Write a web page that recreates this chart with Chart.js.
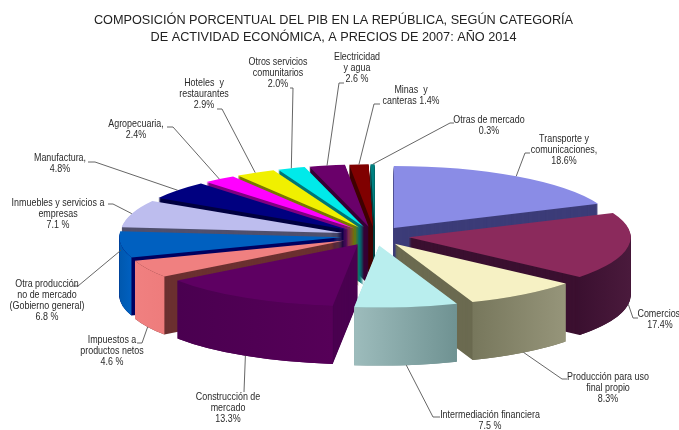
<!DOCTYPE html>
<html>
<head>
<meta charset="utf-8">
<title>PIB 2014</title>
<script src="https://cdn.jsdelivr.net/npm/chart.js@4/dist/chart.umd.min.js"></script>
<style>
	body { margin: 0; background: #fff; }
	canvas { display: block; }
</style>
</head>
<body>
<canvas id="myChart" width="679" height="430"></canvas>
<script>
var categories = [
	"Transporte y comunicaciones", "Comercios", "Producción para uso final propio",
	"Intermediación financiera", "Construcción de mercado", "Impuestos a productos netos",
	"Otra producción no de mercado (Gobierno general)", "Inmuebles y servicios a empresas",
	"Manufactura", "Agropecuaria", "Hoteles y restaurantes", "Otros servicios comunitarios",
	"Electricidad y agua", "Minas y canteras", "Otras de mercado"
];
var shares = [18.6, 17.4, 8.3, 7.5, 13.3, 4.6, 6.8, 7.1, 4.8, 2.4, 2.9, 2.0, 2.6, 1.4, 0.3];
var titleLines = [
	"COMPOSICIÓN PORCENTUAL DEL PIB EN LA REPÚBLICA, SEGÚN CATEGORÍA",
	"DE ACTIVIDAD ECONÓMICA, A PRECIOS DE 2007: AÑO 2014"
];
var labelLines = [
	["Transporte y", "comunicaciones,", "18.6%"],
	["Comercios,", "17.4%"],
	["Producción para uso", "final propio", "8.3%"],
	["Intermediación financiera", "7.5 %"],
	["Construcción de", "mercado", "13.3%"],
	["Impuestos a", "productos netos", "4.6 %"],
	["Otra producción", "no de mercado", "(Gobierno general)", "6.8 %"],
	["Inmuebles y servicios a", "empresas", "7.1 %"],
	["Manufactura,", "4.8%"],
	["Agropecuaria,", "2.4%"],
	["Hoteles  y", "restaurantes", "2.9%"],
	["Otros servicios", "comunitarios", "2.0%"],
	["Electricidad", "y agua", "2.6 %"],
	["Minas  y", "canteras 1.4%"],
	["Otras de mercado", "0.3%"]
];

var topColors = ["#8a8ce6", "#8b2a5c", "#f6f1c4", "#b9eeee", "#5e0062", "#f08080", "#0060c0", "#bdbdee",
	"#000080", "#ff00ff", "#f0f000", "#00eaea", "#6a006a", "#800000", "#008080"];
var cutColors = ["#3c3c78", "#3b1030", "#6b6a50", "#6f9090", "#4a0050", "#6b3030", "#000060", "#50506e",
	"#000040", "#800080", "#787800", "#007575", "#350035", "#400000", "#004040"];
var rimColors = [
	["#3c3c78", "#3c3c78"], ["#3b1030", "#4a1a3c"], ["#77775c", "#96957a"], ["#9dbcbc", "#6f9292"],
	["#4a0050", "#560058"], ["#f08080", "#ee7c7c"], ["#0058ae", "#0060c0"], ["#50506e", "#50506e"],
	["#000040", "#000040"], ["#800080", "#800080"], ["#787800", "#787800"], ["#007575", "#007575"],
	["#350035", "#350035"], ["#400000", "#400000"], ["#004040", "#004040"]
];

// pie placement, the squash gives the tilted look
var pieRadius = 222;
var pieCenter = { x: 375, y: 236 };
var squash = 0.28;
var explode = 34;
var pieDepth = 58;

// label centre x, first line y, then leader line points after the pie anchor
var labelSpots = [
	{ x: 564, y: 139, leader: [[525, 153], [530, 153]], drop: 0 },
	{ x: 660, y: 314, leader: [[633, 318], [638, 318]], drop: 1 },
	{ x: 608, y: 377, leader: [[562, 379], [567, 379]], drop: 1 },
	{ x: 490, y: 415, leader: [[433, 417], [440, 417]], drop: 1 },
	{ x: 228, y: 397, leader: [[244, 392]], drop: 1 },
	{ x: 112, y: 340, leader: [[142, 343], [137, 343]], drop: 1 },
	{ x: 47, y: 284, leader: [[78, 286], [73, 286]], drop: 0.1 },
	{ x: 58, y: 203, leader: [[113, 204], [108, 204]], drop: 0 },
	{ x: 60, y: 158, leader: [[95, 162], [88, 162]], drop: 0 },
	{ x: 136, y: 124, leader: [[173, 127], [167, 127]], drop: 0 },
	{ x: 204, y: 83, leader: [[222, 109], [217, 109]], drop: 0 },
	{ x: 278, y: 62, leader: [[293, 88], [290, 88]], drop: 0 },
	{ x: 357, y: 57, leader: [[339, 83], [344, 83]], drop: 0 },
	{ x: 411, y: 90, leader: [[374, 104], [380, 104]], drop: 0 },
	{ x: 489, y: 120, leader: [[450, 123], [454, 123]], drop: 0 }
];

function pieShift(arc) {
	var mid = (arc.startAngle + arc.endAngle) / 2;
	return {
		x: pieCenter.x - arc.x + Math.cos(mid) * explode,
		y: pieCenter.y + Math.sin(mid) * explode * squash
	};
}

// runs a drawing inside the squashed space of one slice
function inSliceSpace(ctx, arc, dropBy, draw) {
	var shift = pieShift(arc);
	ctx.save();
	ctx.translate(shift.x, shift.y + dropBy);
	ctx.scale(1, squash);
	ctx.translate(0, -arc.y);
	draw();
	ctx.restore();
}

function drawRim(ctx, arc, index) {
	var from = Math.max(arc.startAngle, 0);
	var to = Math.min(arc.endAngle, Math.PI);
	if (from >= to) return;
	var x1 = arc.x + Math.cos(to) * pieRadius;
	var x2 = arc.x + Math.cos(from) * pieRadius;
	var fill = ctx.createLinearGradient(x1, 0, x2, 0);
	fill.addColorStop(0, rimColors[index][0]);
	fill.addColorStop(1, rimColors[index][1]);
	inSliceSpace(ctx, arc, 0, function () {
		ctx.beginPath();
		ctx.arc(arc.x, arc.y, pieRadius, from, to);
		ctx.arc(arc.x, arc.y + pieDepth / squash, pieRadius, to, from, true);
		ctx.closePath();
		ctx.fillStyle = fill;
		ctx.fill();
	});
}

function drawSlice(ctx, arc, index) {
	var original = arc.options;
	// the block underneath the slice: same arc, repeated downwards in the cut colour
	arc.options = Object.assign({}, original, { backgroundColor: cutColors[index], borderColor: cutColors[index] });
	for (var d = pieDepth; d > 0; d -= 1) {
		inSliceSpace(ctx, arc, d, function () { arc.draw(ctx); });
	}
	arc.options = original;
	drawRim(ctx, arc, index);
	inSliceSpace(ctx, arc, 0, function () { arc.draw(ctx); });
}

var tiltedPie = {
	id: "tiltedPie",
	beforeDatasetsDraw(chart) {
		var ctx = chart.ctx;
		var arcs = chart.getDatasetMeta(0).data;
		var order = arcs.map(function (arc, i) { return i; });
		// back slices first
		order.sort(function (a, b) {
			var midA = (arcs[a].startAngle + arcs[a].endAngle) / 2;
			var midB = (arcs[b].startAngle + arcs[b].endAngle) / 2;
			return Math.sin(midA) - Math.sin(midB);
		});
		order.forEach(function (i) { drawSlice(ctx, arcs[i], i); });
		drawLabels(ctx, arcs);
		return false;
	}
};

function drawLabels(ctx, arcs) {
	ctx.save();
	ctx.strokeStyle = "#555";
	ctx.lineWidth = 0.9;
	ctx.fillStyle = "#2a2a2a";
	ctx.font = "10.5px 'Liberation Sans', sans-serif";
	ctx.textAlign = "center";
	ctx.textBaseline = "middle";
	arcs.forEach(function (arc, i) {
		var spot = labelSpots[i];
		var mid = (arc.startAngle + arc.endAngle) / 2;
		var shift = pieShift(arc);
		ctx.beginPath();
		ctx.moveTo(arc.x + shift.x + Math.cos(mid) * pieRadius,
			shift.y + Math.sin(mid) * pieRadius * squash + spot.drop * pieDepth);
		spot.leader.forEach(function (p) { ctx.lineTo(p[0], p[1]); });
		ctx.stroke();
		labelLines[i].forEach(function (line, n) {
			// condensed look for the slice labels
			ctx.save();
			ctx.translate(spot.x, spot.y + n * 11.2);
			ctx.scale(0.85, 1);
			ctx.fillText(line, 0, 0);
			ctx.restore();
		});
	});
	ctx.restore();
}

const myChart = new Chart(document.getElementById("myChart"), {
	type: "pie",
	data: {
		labels: categories,
		datasets: [{
			data: shares,
			backgroundColor: topColors,
			borderWidth: 0,
			radius: pieRadius
		}]
	},
	options: {
		responsive: false,
		animation: false,
		layout: { padding: { right: 12 } },
		plugins: {
			legend: { display: false },
			tooltip: { enabled: false },
			title: {
				display: true,
				text: titleLines,
				color: "#222",
				font: { family: "'Liberation Sans', Arial, sans-serif", size: 12.7, weight: "normal", lineHeight: 1.34 },
				padding: { top: 12, bottom: 4 }
			}
		}
	},
	plugins: [tiltedPie]
});
</script>
</body>
</html>
